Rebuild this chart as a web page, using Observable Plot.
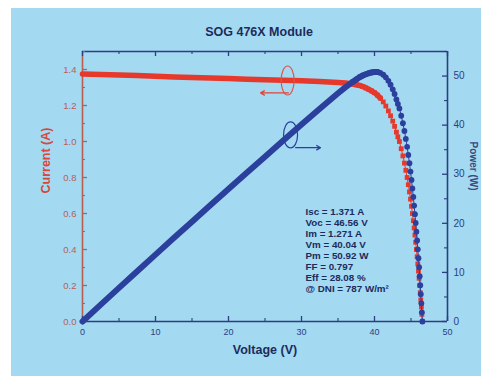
<!DOCTYPE html>
<html><head><meta charset="utf-8">
<script src="https://cdn.jsdelivr.net/npm/d3@7"></script>
<script src="https://cdn.jsdelivr.net/npm/@observablehq/plot@0.6"></script>
<style>
html,body{margin:0;padding:0;background:#fff;}
#chart{position:absolute;left:11px;top:8px;}
#chart svg{background:#a4d9f2;display:block;}
</style></head><body><div id="chart"></div>
<script>
// ---- data ----
const voltage = [0,2.5,5,7.5,10,12.5,15,17.5,20,22.5,25,27.5,30,32.5,35,36,37,37.5,
  38,38.4,38.8,39.2,39.6,40,40.4,40.8,41.2,41.55,41.9,42.2,42.5,42.75,43,43.2,
  43.41,43.66,43.89,44.1,44.29,44.47,44.63,44.79,44.93,45.07,45.19,45.32,45.43,45.54,45.64,45.74,45.84,45.93,46.02,46.11,46.19,46.27,46.34,46.42,46.49,46.56];
const current = [1.375,1.372,1.369,1.366,1.362,1.359,1.356,1.353,1.35,1.346,1.343,1.34,1.337,1.333,1.328,1.325,1.319,1.315,
  1.311,1.305,1.298,1.29,1.281,1.271,1.258,1.241,1.22,1.197,1.17,1.143,1.113,1.084,1.052,1.026,
  1.0,0.96,0.92,0.88,0.84,0.8,0.76,0.72,0.68,0.64,0.6,0.56,0.52,0.48,0.44,0.4,0.36,0.32,0.28,0.24,0.2,0.16,0.12,0.08,0.04,0];
const power = [0,3.43,6.85,10.25,13.62,16.99,20.34,23.68,27.0,30.29,33.58,36.85,40.11,43.32,46.48,47.7,48.8,49.31,
  49.82,50.11,50.36,50.57,50.73,50.84,50.82,50.63,50.26,49.74,49.02,48.23,47.3,46.34,45.24,44.32,
  43.41,41.91,40.38,38.81,37.2,35.58,33.92,32.25,30.55,28.84,27.11,25.38,23.62,21.86,20.08,18.3,16.5,14.7,12.89,11.07,9.24,7.4,5.56,3.71,1.86,0];
const currentTicks = [0,0.2,0.4,0.6,0.8,1.0,1.2,1.4];
const currentMinor = [0.1,0.3,0.5,0.7,0.9,1.1,1.3,1.5];
const powerTicks = [0,10,20,30,40,50];
const powerMinor = [5,15,25,35,45,55];
const voltageTicks = [0,10,20,30,40,50];
const voltageMinor = [5,15,25,35,45];
const stats = ["Isc = 1.371 A","Voc = 46.56 V","Im = 1.271 A","Vm = 40.04 V","Pm = 50.92 W","FF = 0.797","Eff = 28.08 %","@ DNI = 787 W/m²"];
const titleText = "SOG 476X Module";
const currentMarker = [{v:28.1, y:1.339, ax1:28.2, ax2:24.4, ay:1.27}];
const powerMarker = [{v:28.5, p:38.0, ax1:29.2, ax2:32.6, ap:35.4}];

// ---- styling ----
const RED = "#e6382b", BLUE = "#2b3f9c", BROWN = "#b8604f", NAVY = "#2b3f80";
const k = 1.5 / 55; // power -> current-axis units
const rows = voltage.map((v, j) => ({v, i: current[j], pp: power[j] * k}));
const W = 470, H = 368, ML = 71, MR = 34, MT = 43, MB = 55;
const FW = W - ML - MR, FH = H - MT - MB;

function ellipse(rx, ry) {
  return {draw(c) {
    const kx = rx * 0.5523, ky = ry * 0.5523;
    c.moveTo(rx, 0);
    c.bezierCurveTo(rx, ky, kx, ry, 0, ry);
    c.bezierCurveTo(-kx, ry, -rx, ky, -rx, 0);
    c.bezierCurveTo(-rx, -ky, -kx, -ry, 0, -ry);
    c.bezierCurveTo(kx, -ry, rx, -ky, rx, 0);
    c.closePath();
  }};
}

const font = "'Liberation Sans', Arial, sans-serif";
const chart = Plot.plot({
  width: W, height: H,
  marginLeft: ML, marginRight: MR, marginTop: MT, marginBottom: MB,
  style: {fontFamily: font, background: "#a4d9f2"},
  x: {domain: [0, 50]},
  y: {domain: [0, 1.5]},
  marks: [
    // frame
    Plot.ruleY([0, 1.5], {stroke: NAVY, strokeWidth: 1.6}),
    Plot.ruleX([50], {stroke: NAVY, strokeWidth: 1.6}),
    Plot.ruleX([0], {stroke: BROWN, strokeWidth: 1.6}),
    // inward ticks
    Plot.tickY(currentTicks, {y: d => d, stroke: BROWN, strokeWidth: 1.3, insetRight: FW - 5}),
    Plot.tickY(currentMinor, {y: d => d, stroke: BROWN, strokeWidth: 1.1, insetRight: FW - 3}),
    Plot.tickY(powerTicks, {y: d => d * k, stroke: NAVY, strokeWidth: 1.3, insetLeft: FW - 5}),
    Plot.tickY(powerMinor, {y: d => d * k, stroke: NAVY, strokeWidth: 1.1, insetLeft: FW - 3}),
    Plot.tickX(voltageTicks, {x: d => d, stroke: NAVY, strokeWidth: 1.3, insetTop: FH - 5}),
    Plot.tickX(voltageMinor, {x: d => d, stroke: NAVY, strokeWidth: 1.1, insetTop: FH - 3}),
    Plot.tickX(voltageTicks, {x: d => d, stroke: NAVY, strokeWidth: 1.3, insetBottom: FH - 5}),
    Plot.tickX(voltageMinor, {x: d => d, stroke: NAVY, strokeWidth: 1.1, insetBottom: FH - 3}),
    // axis labels
    Plot.axisY(currentTicks, {anchor: "left", tickSize: 0, tickPadding: 6, tickFormat: d3.format(".1f"), label: null, color: BROWN, fontSize: 9.5}),
    Plot.axisY(powerTicks.map(d => d * k), {anchor: "right", tickSize: 0, tickPadding: 6, tickFormat: d => String(Math.round(d / k)), label: null, color: NAVY, fontSize: 10}),
    Plot.axisX(voltageTicks, {anchor: "bottom", tickSize: 0, tickPadding: 7, label: null, color: NAVY, fontSize: 9}),
    // current curve
    Plot.line(rows.filter(d => d.v <= 41), {x: "v", y: "i", stroke: RED, strokeWidth: 5.5}),
    Plot.line(rows, {x: "v", y: "i", stroke: RED, strokeWidth: 1}),
    Plot.dot(rows.filter(d => d.v >= 37), {x: "v", y: "i", symbol: "square", r: 2.7, fill: RED}),
    // power curve
    Plot.line(rows.filter(d => d.v <= 40.4), {x: "v", y: "pp", stroke: BLUE, strokeWidth: 6}),
    Plot.line(rows, {x: "v", y: "pp", stroke: BLUE, strokeWidth: 1}),
    Plot.dot(rows.filter(d => d.v >= 37), {x: "v", y: "pp", symbol: "circle", r: 2.9, fill: BLUE}),
    // annotations
    Plot.dot(currentMarker, {x: "v", y: "y", symbol: ellipse(6.5, 14.5), stroke: "#e05548", strokeWidth: 1.2, fill: "none"}),
    Plot.arrow(currentMarker, {x1: "ax1", x2: "ax2", y1: "ay", y2: "ay", stroke: "#e04538", strokeWidth: 1.3, headLength: 5}),
    Plot.dot(powerMarker, {x: "v", y: d => d.p * k, symbol: ellipse(7, 13), stroke: BLUE, strokeWidth: 1.2, fill: "none"}),
    Plot.arrow(powerMarker, {x1: "ax1", x2: "ax2", y1: d => d.ap * k, y2: d => d.ap * k, stroke: BLUE, strokeWidth: 1.3, headLength: 5}),
    // texts
    Plot.text([titleText], {frameAnchor: "top", dy: -24, dx: -6, text: d => d, fill: "#1d2b5c", fontWeight: "bold", fontSize: 12.5}),
    Plot.text(["Current (A)"], {frameAnchor: "left", dx: -37, dy: 7, rotate: -90, text: d => d, fill: "#d8473a", fontWeight: "bold", fontSize: 12.5}),
    Plot.text(["Power (W)"], {frameAnchor: "right", dx: 26, dy: 4, rotate: 90, text: d => d, fill: "#3a4a7a", fontWeight: "bold", fontSize: 10}),
    Plot.text(["Voltage (V)"], {frameAnchor: "bottom", dy: 32, text: d => d, fill: "#1d2b5c", fontWeight: "bold", fontSize: 12.5}),
    Plot.text([stats.join("\n")], {frameAnchor: "top-left", dx: 223, dy: 156, text: d => d, textAnchor: "start", lineAnchor: "top", lineHeight: 1.12, fill: "#1d2b5c", fontWeight: "bold", fontSize: 9.8})
  ]
});
document.getElementById("chart").append(chart);
</script></body></html>
